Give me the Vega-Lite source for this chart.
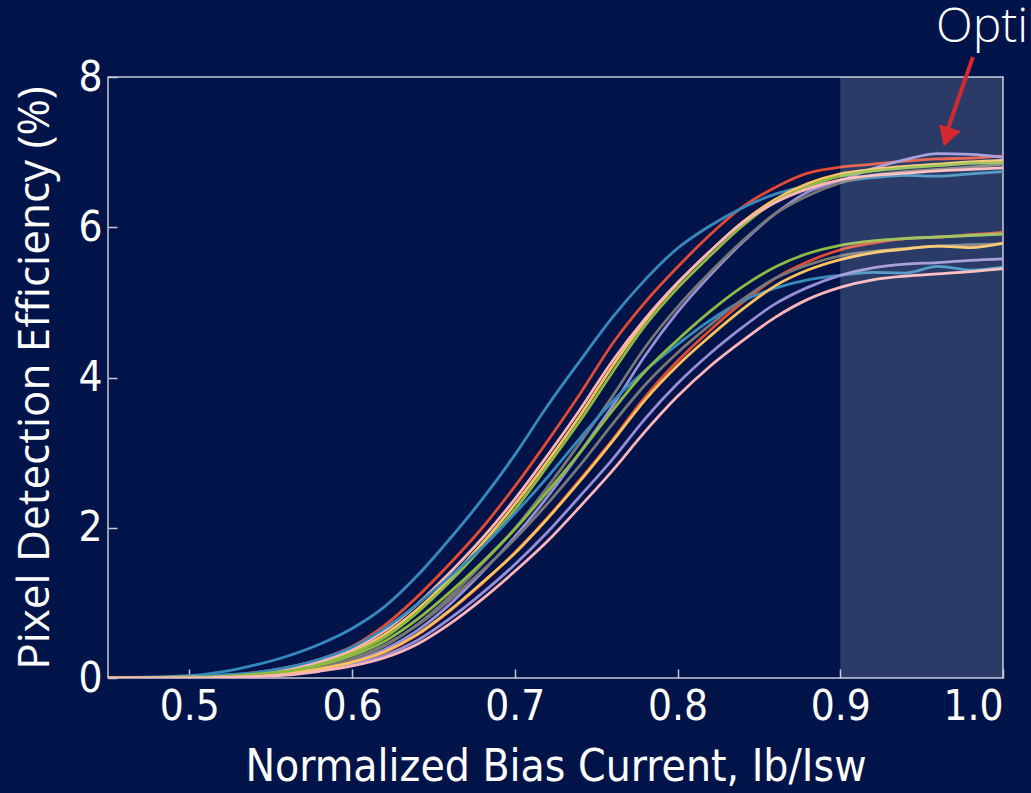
{
"$schema":"https://vega.github.io/schema/vega-lite/v6.json",
"width":895,"height":601,
"autosize":{"type":"none"},
"padding":{"left":108,"top":77,"right":28,"bottom":115},
"background":"#00144a",
"config":{
 "view":{"stroke":"#c5c9d6","strokeWidth":1.5},
 "axis":{"domain":false,"grid":false,"tickColor":"#c5c9d6","tickWidth":1.5,"tickSize":-9,
  "labelColor":"#ffffff","labelFont":"DejaVu Sans Condensed, Liberation Sans","labelFontSize":42,
  "titleColor":"#ffffff","titleFontWeight":"normal"}
},
"datasets":{
"curves":[
{"s":"A1","x":0.45,"y":0},{"s":"A1","x":0.5,"y":0.01},{"s":"A1","x":0.52,"y":0.03},{"s":"A1","x":0.54,"y":0.07},{"s":"A1","x":0.56,"y":0.14},{"s":"A1","x":0.58,"y":0.25},{"s":"A1","x":0.6,"y":0.42},{"s":"A1","x":0.62,"y":0.7},{"s":"A1","x":0.64,"y":1.08},{"s":"A1","x":0.66,"y":1.52},{"s":"A1","x":0.68,"y":2.0},{"s":"A1","x":0.7,"y":2.55},{"s":"A1","x":0.72,"y":3.15},{"s":"A1","x":0.74,"y":3.78},{"s":"A1","x":0.76,"y":4.45},{"s":"A1","x":0.78,"y":5.0},{"s":"A1","x":0.8,"y":5.47},{"s":"A1","x":0.82,"y":5.9},{"s":"A1","x":0.84,"y":6.27},{"s":"A1","x":0.86,"y":6.53},{"s":"A1","x":0.88,"y":6.72},{"s":"A1","x":0.9,"y":6.8},{"s":"A1","x":0.92,"y":6.84},{"s":"A1","x":0.94,"y":6.88},{"s":"A1","x":0.96,"y":6.91},{"s":"A1","x":0.98,"y":6.92},{"s":"A1","x":1.0,"y":6.95},
{"s":"A2","x":0.45,"y":0},{"s":"A2","x":0.5,"y":0.03},{"s":"A2","x":0.52,"y":0.08},{"s":"A2","x":0.54,"y":0.17},{"s":"A2","x":0.56,"y":0.29},{"s":"A2","x":0.58,"y":0.45},{"s":"A2","x":0.6,"y":0.66},{"s":"A2","x":0.62,"y":0.95},{"s":"A2","x":0.64,"y":1.36},{"s":"A2","x":0.66,"y":1.85},{"s":"A2","x":0.68,"y":2.38},{"s":"A2","x":0.7,"y":2.97},{"s":"A2","x":0.72,"y":3.62},{"s":"A2","x":0.74,"y":4.22},{"s":"A2","x":0.76,"y":4.8},{"s":"A2","x":0.78,"y":5.3},{"s":"A2","x":0.8,"y":5.72},{"s":"A2","x":0.82,"y":6.02},{"s":"A2","x":0.84,"y":6.26},{"s":"A2","x":0.86,"y":6.44},{"s":"A2","x":0.88,"y":6.55},{"s":"A2","x":0.9,"y":6.61},{"s":"A2","x":0.92,"y":6.66},{"s":"A2","x":0.94,"y":6.69},{"s":"A2","x":0.96,"y":6.68},{"s":"A2","x":0.98,"y":6.71},{"s":"A2","x":1.0,"y":6.74},
{"s":"A3","x":0.45,"y":0},{"s":"A3","x":0.5,"y":0},{"s":"A3","x":0.52,"y":0.01},{"s":"A3","x":0.54,"y":0.03},{"s":"A3","x":0.56,"y":0.06},{"s":"A3","x":0.58,"y":0.12},{"s":"A3","x":0.6,"y":0.22},{"s":"A3","x":0.62,"y":0.38},{"s":"A3","x":0.64,"y":0.63},{"s":"A3","x":0.66,"y":0.98},{"s":"A3","x":0.68,"y":1.41},{"s":"A3","x":0.7,"y":1.88},{"s":"A3","x":0.72,"y":2.41},{"s":"A3","x":0.74,"y":3.0},{"s":"A3","x":0.76,"y":3.62},{"s":"A3","x":0.78,"y":4.29},{"s":"A3","x":0.8,"y":4.87},{"s":"A3","x":0.82,"y":5.36},{"s":"A3","x":0.84,"y":5.8},{"s":"A3","x":0.86,"y":6.18},{"s":"A3","x":0.88,"y":6.47},{"s":"A3","x":0.9,"y":6.62},{"s":"A3","x":0.92,"y":6.78},{"s":"A3","x":0.94,"y":6.9},{"s":"A3","x":0.96,"y":6.98},{"s":"A3","x":0.98,"y":6.97},{"s":"A3","x":1.0,"y":6.93},
{"s":"A4","x":0.45,"y":0},{"s":"A4","x":0.5,"y":0},{"s":"A4","x":0.52,"y":0.01},{"s":"A4","x":0.54,"y":0.03},{"s":"A4","x":0.56,"y":0.07},{"s":"A4","x":0.58,"y":0.14},{"s":"A4","x":0.6,"y":0.25},{"s":"A4","x":0.62,"y":0.43},{"s":"A4","x":0.64,"y":0.71},{"s":"A4","x":0.66,"y":1.08},{"s":"A4","x":0.68,"y":1.52},{"s":"A4","x":0.7,"y":1.99},{"s":"A4","x":0.72,"y":2.54},{"s":"A4","x":0.74,"y":3.13},{"s":"A4","x":0.76,"y":3.75},{"s":"A4","x":0.78,"y":4.4},{"s":"A4","x":0.8,"y":4.94},{"s":"A4","x":0.82,"y":5.4},{"s":"A4","x":0.84,"y":5.82},{"s":"A4","x":0.86,"y":6.18},{"s":"A4","x":0.88,"y":6.42},{"s":"A4","x":0.9,"y":6.59},{"s":"A4","x":0.92,"y":6.69},{"s":"A4","x":0.94,"y":6.74},{"s":"A4","x":0.96,"y":6.77},{"s":"A4","x":0.98,"y":6.8},{"s":"A4","x":1.0,"y":6.84},
{"s":"A5","x":0.45,"y":0},{"s":"A5","x":0.5,"y":0.01},{"s":"A5","x":0.52,"y":0.02},{"s":"A5","x":0.54,"y":0.05},{"s":"A5","x":0.56,"y":0.11},{"s":"A5","x":0.58,"y":0.2},{"s":"A5","x":0.6,"y":0.35},{"s":"A5","x":0.62,"y":0.58},{"s":"A5","x":0.64,"y":0.91},{"s":"A5","x":0.66,"y":1.32},{"s":"A5","x":0.68,"y":1.79},{"s":"A5","x":0.7,"y":2.31},{"s":"A5","x":0.72,"y":2.88},{"s":"A5","x":0.74,"y":3.49},{"s":"A5","x":0.76,"y":4.15},{"s":"A5","x":0.78,"y":4.75},{"s":"A5","x":0.8,"y":5.25},{"s":"A5","x":0.82,"y":5.68},{"s":"A5","x":0.84,"y":6.07},{"s":"A5","x":0.86,"y":6.37},{"s":"A5","x":0.88,"y":6.58},{"s":"A5","x":0.9,"y":6.71},{"s":"A5","x":0.92,"y":6.77},{"s":"A5","x":0.94,"y":6.81},{"s":"A5","x":0.96,"y":6.84},{"s":"A5","x":0.98,"y":6.87},{"s":"A5","x":1.0,"y":6.89},
{"s":"A6","x":0.45,"y":0},{"s":"A6","x":0.5,"y":0.01},{"s":"A6","x":0.52,"y":0.02},{"s":"A6","x":0.54,"y":0.05},{"s":"A6","x":0.56,"y":0.1},{"s":"A6","x":0.58,"y":0.19},{"s":"A6","x":0.6,"y":0.33},{"s":"A6","x":0.62,"y":0.54},{"s":"A6","x":0.64,"y":0.87},{"s":"A6","x":0.66,"y":1.28},{"s":"A6","x":0.68,"y":1.74},{"s":"A6","x":0.7,"y":2.24},{"s":"A6","x":0.72,"y":2.82},{"s":"A6","x":0.74,"y":3.42},{"s":"A6","x":0.76,"y":4.07},{"s":"A6","x":0.78,"y":4.69},{"s":"A6","x":0.8,"y":5.19},{"s":"A6","x":0.82,"y":5.62},{"s":"A6","x":0.84,"y":6.02},{"s":"A6","x":0.86,"y":6.34},{"s":"A6","x":0.88,"y":6.54},{"s":"A6","x":0.9,"y":6.68},{"s":"A6","x":0.92,"y":6.75},{"s":"A6","x":0.94,"y":6.79},{"s":"A6","x":0.96,"y":6.82},{"s":"A6","x":0.98,"y":6.85},{"s":"A6","x":1.0,"y":6.86},
{"s":"A7","x":0.45,"y":0},{"s":"A7","x":0.5,"y":0.01},{"s":"A7","x":0.52,"y":0.03},{"s":"A7","x":0.54,"y":0.06},{"s":"A7","x":0.56,"y":0.12},{"s":"A7","x":0.58,"y":0.22},{"s":"A7","x":0.6,"y":0.38},{"s":"A7","x":0.62,"y":0.63},{"s":"A7","x":0.64,"y":0.98},{"s":"A7","x":0.66,"y":1.4},{"s":"A7","x":0.68,"y":1.86},{"s":"A7","x":0.7,"y":2.38},{"s":"A7","x":0.72,"y":2.96},{"s":"A7","x":0.74,"y":3.57},{"s":"A7","x":0.76,"y":4.22},{"s":"A7","x":0.78,"y":4.78},{"s":"A7","x":0.8,"y":5.26},{"s":"A7","x":0.82,"y":5.68},{"s":"A7","x":0.84,"y":6.06},{"s":"A7","x":0.86,"y":6.33},{"s":"A7","x":0.88,"y":6.51},{"s":"A7","x":0.9,"y":6.63},{"s":"A7","x":0.92,"y":6.69},{"s":"A7","x":0.94,"y":6.72},{"s":"A7","x":0.96,"y":6.75},{"s":"A7","x":0.98,"y":6.77},{"s":"A7","x":1.0,"y":6.79},
{"s":"B1","x":0.45,"y":0},{"s":"B1","x":0.5,"y":0},{"s":"B1","x":0.52,"y":0.01},{"s":"B1","x":0.54,"y":0.02},{"s":"B1","x":0.56,"y":0.06},{"s":"B1","x":0.58,"y":0.11},{"s":"B1","x":0.6,"y":0.2},{"s":"B1","x":0.62,"y":0.34},{"s":"B1","x":0.64,"y":0.57},{"s":"B1","x":0.66,"y":0.89},{"s":"B1","x":0.68,"y":1.26},{"s":"B1","x":0.7,"y":1.67},{"s":"B1","x":0.72,"y":2.13},{"s":"B1","x":0.74,"y":2.64},{"s":"B1","x":0.76,"y":3.17},{"s":"B1","x":0.78,"y":3.74},{"s":"B1","x":0.8,"y":4.22},{"s":"B1","x":0.82,"y":4.63},{"s":"B1","x":0.84,"y":5.0},{"s":"B1","x":0.86,"y":5.32},{"s":"B1","x":0.88,"y":5.54},{"s":"B1","x":0.9,"y":5.7},{"s":"B1","x":0.92,"y":5.79},{"s":"B1","x":0.94,"y":5.85},{"s":"B1","x":0.96,"y":5.87},{"s":"B1","x":0.98,"y":5.9},{"s":"B1","x":1.0,"y":5.93},
{"s":"B2","x":0.45,"y":0},{"s":"B2","x":0.5,"y":0.01},{"s":"B2","x":0.52,"y":0.04},{"s":"B2","x":0.54,"y":0.07},{"s":"B2","x":0.56,"y":0.14},{"s":"B2","x":0.58,"y":0.25},{"s":"B2","x":0.6,"y":0.41},{"s":"B2","x":0.62,"y":0.66},{"s":"B2","x":0.64,"y":0.98},{"s":"B2","x":0.66,"y":1.35},{"s":"B2","x":0.68,"y":1.74},{"s":"B2","x":0.7,"y":2.19},{"s":"B2","x":0.72,"y":2.67},{"s":"B2","x":0.74,"y":3.19},{"s":"B2","x":0.76,"y":3.68},{"s":"B2","x":0.78,"y":4.09},{"s":"B2","x":0.8,"y":4.44},{"s":"B2","x":0.82,"y":4.76},{"s":"B2","x":0.84,"y":5.02},{"s":"B2","x":0.86,"y":5.19},{"s":"B2","x":0.88,"y":5.3},{"s":"B2","x":0.9,"y":5.36},{"s":"B2","x":0.92,"y":5.4},{"s":"B2","x":0.94,"y":5.39},{"s":"B2","x":0.96,"y":5.48},{"s":"B2","x":0.98,"y":5.43},{"s":"B2","x":1.0,"y":5.47},
{"s":"B3","x":0.45,"y":0},{"s":"B3","x":0.5,"y":0},{"s":"B3","x":0.52,"y":0.01},{"s":"B3","x":0.54,"y":0.02},{"s":"B3","x":0.56,"y":0.05},{"s":"B3","x":0.58,"y":0.1},{"s":"B3","x":0.6,"y":0.18},{"s":"B3","x":0.62,"y":0.3},{"s":"B3","x":0.64,"y":0.5},{"s":"B3","x":0.66,"y":0.79},{"s":"B3","x":0.68,"y":1.13},{"s":"B3","x":0.7,"y":1.51},{"s":"B3","x":0.72,"y":1.94},{"s":"B3","x":0.74,"y":2.42},{"s":"B3","x":0.76,"y":2.91},{"s":"B3","x":0.78,"y":3.45},{"s":"B3","x":0.8,"y":3.92},{"s":"B3","x":0.82,"y":4.32},{"s":"B3","x":0.84,"y":4.67},{"s":"B3","x":0.86,"y":4.98},{"s":"B3","x":0.88,"y":5.2},{"s":"B3","x":0.9,"y":5.36},{"s":"B3","x":0.92,"y":5.46},{"s":"B3","x":0.94,"y":5.51},{"s":"B3","x":0.96,"y":5.53},{"s":"B3","x":0.98,"y":5.56},{"s":"B3","x":1.0,"y":5.58},
{"s":"B4","x":0.45,"y":0},{"s":"B4","x":0.5,"y":0},{"s":"B4","x":0.52,"y":0.02},{"s":"B4","x":0.54,"y":0.04},{"s":"B4","x":0.56,"y":0.08},{"s":"B4","x":0.58,"y":0.15},{"s":"B4","x":0.6,"y":0.26},{"s":"B4","x":0.62,"y":0.44},{"s":"B4","x":0.64,"y":0.7},{"s":"B4","x":0.66,"y":1.04},{"s":"B4","x":0.68,"y":1.43},{"s":"B4","x":0.7,"y":1.85},{"s":"B4","x":0.72,"y":2.32},{"s":"B4","x":0.74,"y":2.83},{"s":"B4","x":0.76,"y":3.38},{"s":"B4","x":0.78,"y":3.9},{"s":"B4","x":0.8,"y":4.33},{"s":"B4","x":0.82,"y":4.7},{"s":"B4","x":0.84,"y":5.04},{"s":"B4","x":0.86,"y":5.32},{"s":"B4","x":0.88,"y":5.5},{"s":"B4","x":0.9,"y":5.62},{"s":"B4","x":0.92,"y":5.68},{"s":"B4","x":0.94,"y":5.72},{"s":"B4","x":0.96,"y":5.75},{"s":"B4","x":0.98,"y":5.77},{"s":"B4","x":1.0,"y":5.78},
{"s":"B5","x":0.45,"y":0},{"s":"B5","x":0.5,"y":0},{"s":"B5","x":0.52,"y":0.01},{"s":"B5","x":0.54,"y":0.03},{"s":"B5","x":0.56,"y":0.06},{"s":"B5","x":0.58,"y":0.12},{"s":"B5","x":0.6,"y":0.21},{"s":"B5","x":0.62,"y":0.35},{"s":"B5","x":0.64,"y":0.58},{"s":"B5","x":0.66,"y":0.9},{"s":"B5","x":0.68,"y":1.27},{"s":"B5","x":0.7,"y":1.66},{"s":"B5","x":0.72,"y":2.12},{"s":"B5","x":0.74,"y":2.62},{"s":"B5","x":0.76,"y":3.15},{"s":"B5","x":0.78,"y":3.7},{"s":"B5","x":0.8,"y":4.16},{"s":"B5","x":0.82,"y":4.55},{"s":"B5","x":0.84,"y":4.91},{"s":"B5","x":0.86,"y":5.22},{"s":"B5","x":0.88,"y":5.43},{"s":"B5","x":0.9,"y":5.57},{"s":"B5","x":0.92,"y":5.66},{"s":"B5","x":0.94,"y":5.71},{"s":"B5","x":0.96,"y":5.75},{"s":"B5","x":0.98,"y":5.73},{"s":"B5","x":1.0,"y":5.79},
{"s":"B6","x":0.45,"y":0},{"s":"B6","x":0.5,"y":0.01},{"s":"B6","x":0.52,"y":0.02},{"s":"B6","x":0.54,"y":0.05},{"s":"B6","x":0.56,"y":0.09},{"s":"B6","x":0.58,"y":0.17},{"s":"B6","x":0.6,"y":0.3},{"s":"B6","x":0.62,"y":0.49},{"s":"B6","x":0.64,"y":0.78},{"s":"B6","x":0.66,"y":1.14},{"s":"B6","x":0.68,"y":1.54},{"s":"B6","x":0.7,"y":1.98},{"s":"B6","x":0.72,"y":2.48},{"s":"B6","x":0.74,"y":3.0},{"s":"B6","x":0.76,"y":3.56},{"s":"B6","x":0.78,"y":4.08},{"s":"B6","x":0.8,"y":4.5},{"s":"B6","x":0.82,"y":4.88},{"s":"B6","x":0.84,"y":5.21},{"s":"B6","x":0.86,"y":5.47},{"s":"B6","x":0.88,"y":5.65},{"s":"B6","x":0.9,"y":5.76},{"s":"B6","x":0.92,"y":5.82},{"s":"B6","x":0.94,"y":5.85},{"s":"B6","x":0.96,"y":5.87},{"s":"B6","x":0.98,"y":5.89},{"s":"B6","x":1.0,"y":5.91},
{"s":"B7","x":0.45,"y":0},{"s":"B7","x":0.5,"y":0},{"s":"B7","x":0.52,"y":0.01},{"s":"B7","x":0.54,"y":0.02},{"s":"B7","x":0.56,"y":0.04},{"s":"B7","x":0.58,"y":0.09},{"s":"B7","x":0.6,"y":0.16},{"s":"B7","x":0.62,"y":0.27},{"s":"B7","x":0.64,"y":0.45},{"s":"B7","x":0.66,"y":0.72},{"s":"B7","x":0.68,"y":1.05},{"s":"B7","x":0.7,"y":1.42},{"s":"B7","x":0.72,"y":1.82},{"s":"B7","x":0.74,"y":2.28},{"s":"B7","x":0.76,"y":2.76},{"s":"B7","x":0.78,"y":3.28},{"s":"B7","x":0.8,"y":3.75},{"s":"B7","x":0.82,"y":4.15},{"s":"B7","x":0.84,"y":4.49},{"s":"B7","x":0.86,"y":4.8},{"s":"B7","x":0.88,"y":5.04},{"s":"B7","x":0.9,"y":5.2},{"s":"B7","x":0.92,"y":5.3},{"s":"B7","x":0.94,"y":5.35},{"s":"B7","x":0.96,"y":5.38},{"s":"B7","x":0.98,"y":5.41},{"s":"B7","x":1.0,"y":5.45}
]
},
"layer":[
{"data":{"name":"curves"},
 "mark":{"type":"line","interpolate":"monotone","strokeWidth":2.8,"clip":true},
 "encoding":{
  "x":{"field":"x","type":"quantitative","scale":{"domain":[0.45,1.0],"nice":false,"zero":false},
   "axis":{"values":[0.5,0.6,0.7,0.8,0.9,1.0],"format":".1f","labelPadding":17,
    "title":"Normalized Bias Current,  Ib/Isw","titleFont":"DejaVu Sans Condensed, Liberation Sans","titleFontSize":44,"titlePadding":18}},
  "y":{"field":"y","type":"quantitative","scale":{"domain":[0,8],"nice":false},
   "axis":{"values":[0,2,4,6,8],"format":"d","labelPadding":15,
    "title":"Pixel Detection Efficiency (%)","titleFont":"Open Sans","titleFontSize":44,"titlePadding":20}},
  "color":{"field":"s","type":"nominal","legend":null,
   "scale":{"domain":["A1","A2","A3","A4","A5","A6","A7","B1","B2","B3","B4","B5","B6","B7"],
    "range":["#E24A33","#348ABD","#988ED5","#777777","#FBC15E","#8EBA42","#FFB5B8","#E24A33","#348ABD","#988ED5","#777777","#FBC15E","#8EBA42","#FFB5B8"]}}
 }},
{"data":{"values":[{"x":0.9,"x2":1.0}]},
 "mark":{"type":"rect","fill":"#ffffff","opacity":0.17},
 "encoding":{"x":{"field":"x","type":"quantitative"},"x2":{"field":"x2"},"y":{"datum":0},"y2":{"datum":8}}},
{"data":{"values":[{"x":0.9815,"y":8.266,"x2":0.966,"y2":7.3}]},
 "mark":{"type":"rule","color":"#d8282f","strokeWidth":4},
 "encoding":{"x":{"field":"x","type":"quantitative"},"y":{"field":"y","type":"quantitative"},"x2":{"field":"x2"},"y2":{"field":"y2"}}},
{"data":{"values":[{"x":0.9655,"y":7.2}]},
 "mark":{"type":"point","shape":"triangle-down","filled":true,"color":"#d8282f","opacity":1,"size":520,"angle":18},
 "encoding":{"x":{"field":"x","type":"quantitative"},"y":{"field":"y","type":"quantitative"}}},
{"data":{"values":[{"x":0.9588,"y":8.466,"t":"Optimal"}]},
 "mark":{"type":"text","align":"left","baseline":"alphabetic","font":"Open Sans","fontWeight":300,"fontSize":48,"color":"#ffffff"},
 "encoding":{"x":{"field":"x","type":"quantitative"},"y":{"field":"y","type":"quantitative"},"text":{"field":"t"}}}
]
}
